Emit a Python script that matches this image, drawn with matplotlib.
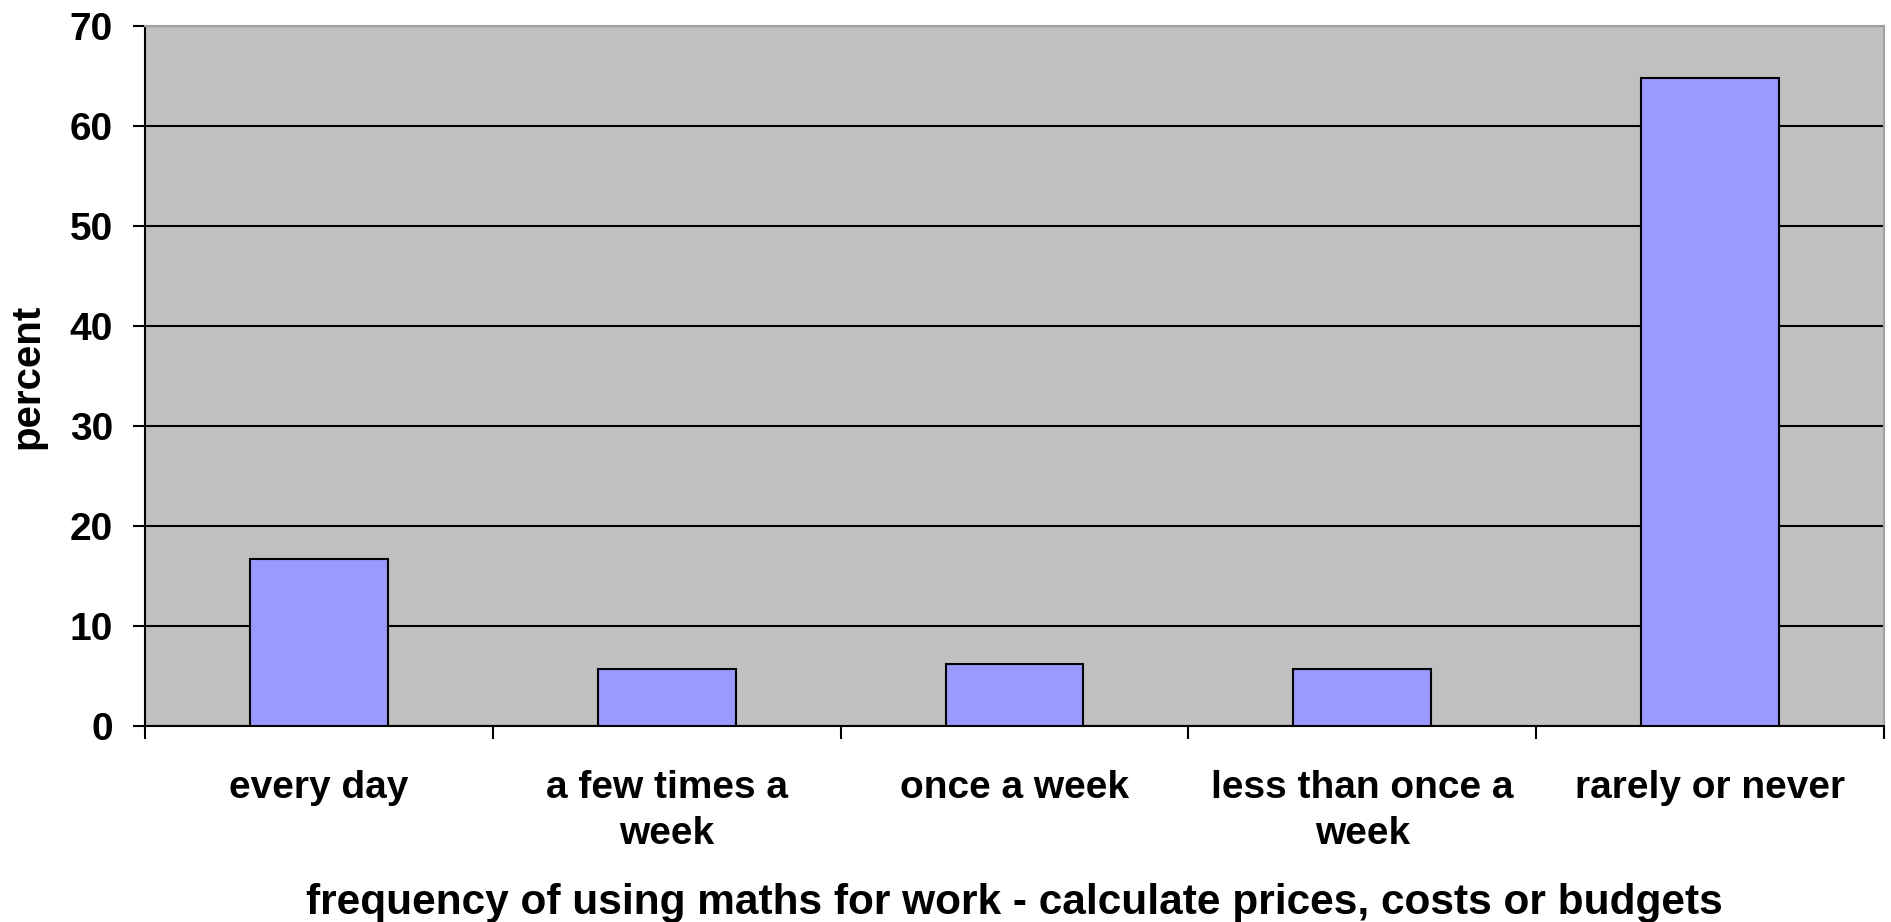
import matplotlib
matplotlib.use("Agg")
import matplotlib.pyplot as plt
import numpy as np

categories = ["every day", "a few times a\nweek", "once a week", "less than once a\nweek", "rarely or never"]
values = [16.7, 5.7, 6.2, 5.7, 64.8]
yticks = [0, 10, 20, 30, 40, 50, 60, 70]

plt.rcParams['font.family'] = ['Liberation Sans', 'DejaVu Sans']
plt.rcParams['font.weight'] = 'bold'

fig = plt.figure(figsize=(18.91, 9.22), dpi=100)
ax = fig.add_axes([145/1891, 1-726/922, (1884-145)/1891, 700/922])
ax.set_facecolor('#C0C0C0')

x = np.arange(len(categories))
ax.bar(x, values, width=0.396, color='#9999FF', edgecolor='black', linewidth=1.5, zorder=3)

ax.set_xlim(-0.5, len(categories) - 0.5)
ax.set_ylim(0, 70)
ax.set_yticks(yticks)
ax.yaxis.grid(True, color='black', linewidth=1.5, zorder=1)
ax.set_axisbelow(True)

ax.set_xticks(x)
ax.set_xticklabels(categories, fontsize=28, fontweight='bold', linespacing=1.35)
ax.set_xticks(np.arange(len(categories) + 1) - 0.5, minor=True)
ax.tick_params(axis='x', which='major', length=0, pad=32)
ax.tick_params(axis='x', which='minor', length=9, width=1.5, color='black')
ax.tick_params(axis='y', length=9, width=1.5, pad=14, labelsize=28)
for lab in ax.get_yticklabels():
    lab.set_fontweight('bold')

for side in ['left', 'bottom']:
    ax.spines[side].set_color('black')
    ax.spines[side].set_linewidth(1.5)
for side in ['top', 'right']:
    ax.spines[side].set_color('#A0A0A0')
    ax.spines[side].set_linewidth(1.5)

ax.set_xlabel("frequency of using maths for work - calculate prices, costs or budgets",
              fontsize=30.5, fontweight='bold')
ax.xaxis.label.set_va('center')
ax.xaxis.set_label_coords(0.5, (726 - 903) / 700)
ax.set_ylabel("percent", fontsize=29, fontweight='bold')
ax.yaxis.label.set_va('center')
ax.yaxis.set_label_coords((27 - 145) / 1739, 0.5)

fig.savefig("out.png", dpi=100)
